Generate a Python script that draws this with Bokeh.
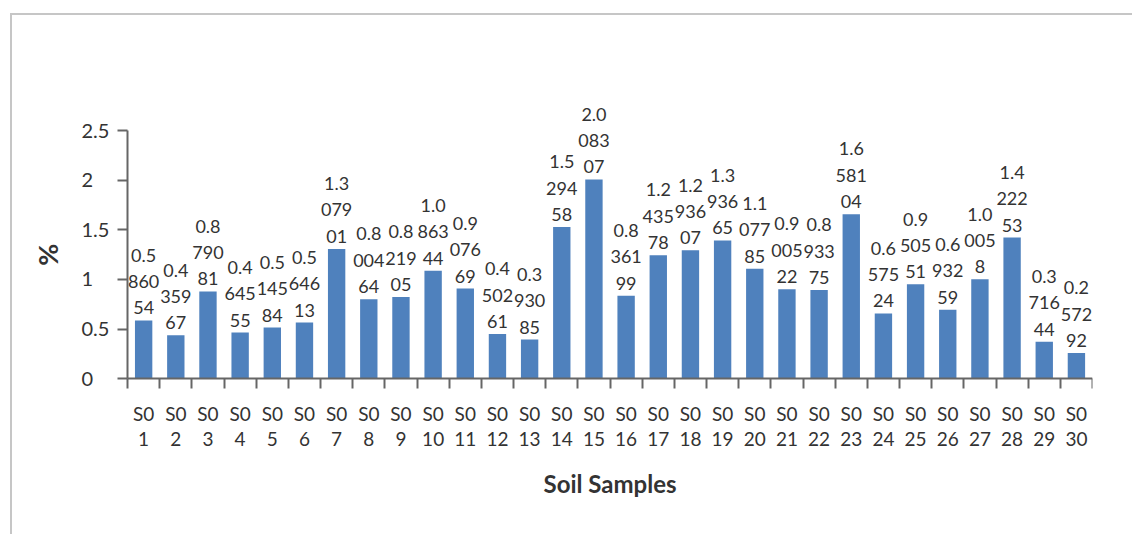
import math
from bokeh.plotting import figure
from bokeh.models import ColumnDataSource, FixedTicker, LinearAxis
from bokeh.core.properties import value
from bokeh.embed import file_html
from bokeh.resources import INLINE

# Soil sample names and measured percentages
sample_names = ["S01", "S02", "S03", "S04", "S05", "S06", "S07", "S08", "S09", "S010",
                "S011", "S012", "S013", "S014", "S015", "S016", "S017", "S018", "S019", "S020",
                "S021", "S022", "S023", "S024", "S025", "S026", "S027", "S028", "S029", "S030"]
percent = [0.586054, 0.435967, 0.879081, 0.464555, 0.514584, 0.564613, 1.307901, 0.800464,
           0.821905, 1.086344, 0.907669, 0.450261, 0.393085, 1.529458, 2.008307, 0.836199,
           1.243578, 1.293607, 1.393665, 1.107785, 0.900522, 0.893375, 1.658104, 0.657524,
           0.950551, 0.693259, 1.00058, 1.422253, 0.371644, 0.257292]
y_ticks = [0, 0.5, 1, 1.5, 2, 2.5]
y_title = "%"
x_title = "Soil Samples"

FONT = "Lato"
TEXT = "#333333"
AXIS = "#666666"
BAR = "#4f81bd"


def wrap(s, n=3):
    return "\n".join(s[i:i + n] for i in range(0, len(s), n))


n = len(percent)
pos = list(range(1, n + 1))
src = ColumnDataSource(dict(x=pos, top=percent, label=[wrap(str(v)) for v in percent]))

# the plotting area reaches left of the first category (left-aligned y labels),
# above 2.5 (tallest value labels) and below 0 (sample names and x title)
X0 = -2.3
p = figure(x_range=(X0, n + 0.5), y_range=(-1.3, 3.5),
           width=1122, height=521, x_axis_location=None,
           min_border_left=25, min_border_right=44, min_border_top=16, min_border_bottom=31,
           output_backend="svg", toolbar_location=None)
p.margin = (13, 0, 0, 10)
p.styles = {"border-top": "2px solid #c6c6c6", "border-left": "2px solid #c6c6c6",
            "box-sizing": "content-box"}
p.outline_line_color = None
p.grid.grid_line_color = None
p.background_fill_color = "white"
p.border_fill_color = "white"

p.vbar(x="x", top="top", bottom=0, width=0.54, source=src, fill_color=BAR, line_color=None)

# value labels above each bar, wrapped three characters per line
p.text(x="x", y="top", text="label", source=src, text_align="center", text_baseline="bottom",
       y_offset=-2, text_font=value(FONT), text_font_size="18px", text_color=TEXT,
       text_line_height=1.2)

# sample names under the bars, wrapped after "S0", and the x title centred on the categories
nsrc = ColumnDataSource(dict(x=pos, y=[0] * n, t=[s[:2] + "\n" + s[2:] for s in sample_names]))
p.text(x="x", y="y", text="t", source=nsrc, y_offset=23, text_align="center",
       text_baseline="top", text_font=value(FONT), text_font_size="19px", text_color=TEXT,
       text_line_height=1.1)
p.text(x=[(pos[0] + pos[-1]) / 2], y=[0], text=[x_title], y_offset=105, text_align="center",
       text_baseline="middle", text_font=value(FONT), text_font_style="bold",
       text_font_size="24px", text_color=TEXT)

# axis line at y = 0 with ticks on the category boundaries
line_axis = LinearAxis(fixed_location=0, bounds=(0.5, n + 0.5),
                       ticker=FixedTicker(ticks=pos, minor_ticks=[i + 0.5 for i in range(0, n + 1)]),
                       major_label_overrides={i: "" for i in pos},
                       major_tick_line_color=None, major_tick_out=0, major_tick_in=0,
                       minor_tick_out=10, minor_tick_in=0, minor_tick_line_color=AXIS,
                       minor_tick_line_width=2, axis_line_color=AXIS, axis_line_width=2,
                       major_label_standoff=0)
p.add_layout(line_axis, "below")

# y axis sits at the left edge of the first category, line and ticks up to 2.5
ya = p.yaxis[0]
ya.fixed_location = 0.5
ya.bounds = (0, 2.5)
ya.ticker = FixedTicker(ticks=y_ticks)
ya.minor_tick_line_color = None
ya.major_tick_out = 10
ya.major_tick_in = 0
ya.major_tick_line_color = AXIS
ya.major_tick_line_width = 2
ya.axis_line_color = AXIS
ya.axis_line_width = 2
ya.major_label_overrides = {t: "" for t in y_ticks}
ya.major_label_standoff = 0

# left-aligned y tick labels and the rotated y title
ysrc = ColumnDataSource(dict(x=[X0] * len(y_ticks), y=y_ticks, t=[f"{v:g}" for v in y_ticks]))
p.text(x="x", y="y", text="t", source=ysrc, x_offset=44, text_align="left",
       text_baseline="middle", text_font=value(FONT), text_font_size="20px", text_color=TEXT)
p.text(x=[X0], y=[(y_ticks[0] + y_ticks[-1]) / 2], text=[y_title], x_offset=10,
       angle=math.pi / 2, text_align="center", text_baseline="middle",
       text_font=value(FONT), text_font_style="bold", text_font_size="27px", text_color=TEXT)

open("out.html", "w").write(file_html(p, INLINE))
